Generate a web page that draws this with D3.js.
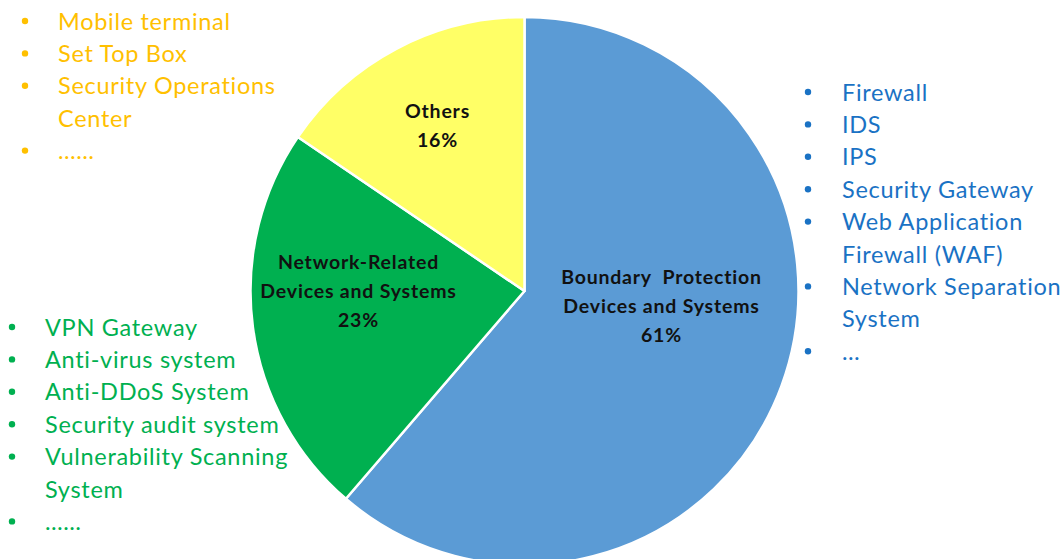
<!DOCTYPE html>
<html><head><meta charset="utf-8">
<script src="https://cdn.jsdelivr.net/npm/d3@7"></script>
<style>html,body{margin:0;padding:0;background:#fff;}svg{display:block;}</style>
</head><body>
<svg id="c" width="1062" height="559"></svg>
<script>
// ---- data ----
const categories = ["Boundary Protection Devices and Systems", "Network-Related Devices and Systems", "Others"];
const values = [61.3, 23.2, 15.5];          // slice sizes
const percentLabels = ["61%", "23%", "16%"]; // percentages as printed
const sliceLabelLines = [["Boundary  Protection", "Devices and Systems"], ["Network-Related", "Devices and Systems"], ["Others"]];
const boundaryItems = [["Firewall"], ["IDS"], ["IPS"], ["Security Gateway"], ["Web Application", "Firewall (WAF)"], ["Network Separation", "System"], ["…"]];
const networkItems = [["VPN Gateway"], ["Anti-virus system"], ["Anti-DDoS System"], ["Security audit system"], ["Vulnerability Scanning", "System"], ["……"]];
const otherItems = [["Mobile terminal"], ["Set Top Box"], ["Security Operations", "Center"], ["……"]];

// ---- layout / style ----
const sliceColors = ["#5B9BD5", "#00B050", "#FFFF66"];
const cx = 524.5, cy = 291, R = 274;
const labelOffsets = [[137, -14], [-166, -29], [-87, -180]]; // top-line centre relative to pie centre
const font = "Lato, 'Open Sans', sans-serif";

const svg = d3.select("#c");
const g = svg.append("g").attr("transform", `translate(${cx},${cy})`);
const pie = d3.pie().sort(null).value(d => d)(values);
const arc = d3.arc().innerRadius(0).outerRadius(R);
g.selectAll("path.slice").data(pie).join("path")
  .attr("class", "slice")
  .attr("d", arc)
  .attr("fill", (d, i) => sliceColors[i])
  .attr("stroke", "#fff").attr("stroke-width", 2.5).attr("stroke-linejoin", "round");

g.selectAll("text.lbl").data(pie).join("text")
  .attr("class", "lbl")
  .attr("text-anchor", "middle")
  .attr("font-family", font).attr("font-weight", "bold").attr("font-size", 19.5)
  .attr("letter-spacing", 0.8)
  .attr("fill", "#111")
  .each(function (d, i) {
    const t = d3.select(this);
    const lines = sliceLabelLines[i].concat([percentLabels[i]]);
    lines.forEach((ln, k) => {
      t.append("tspan").attr("x", labelOffsets[i][0]).attr("y", labelOffsets[i][1] + k * 29 + 7)
        .style("white-space", "pre").text(ln);
    });
  });

function bulletList(items, bx, tx, y0, step, color) {
  const grp = svg.append("g").attr("font-family", font).attr("font-size", 23.5)
    .attr("letter-spacing", 0.7).attr("fill", color);
  let line = 0;
  items.forEach(item => {
    grp.append("circle").attr("cx", bx).attr("cy", y0 + line * step).attr("r", 3.2).attr("fill", color);
    item.forEach(s => {
      grp.append("text").attr("x", tx).attr("y", y0 + line * step + 8.5).text(s);
      line++;
    });
  });
}
bulletList(otherItems, 25, 58, 21, 32.4, "#FFC000");
bulletList(networkItems, 12, 45, 327, 32.4, "#00B050");
bulletList(boundaryItems, 808, 842, 92, 32.4, "#1A72C4");
</script>
</body></html>
